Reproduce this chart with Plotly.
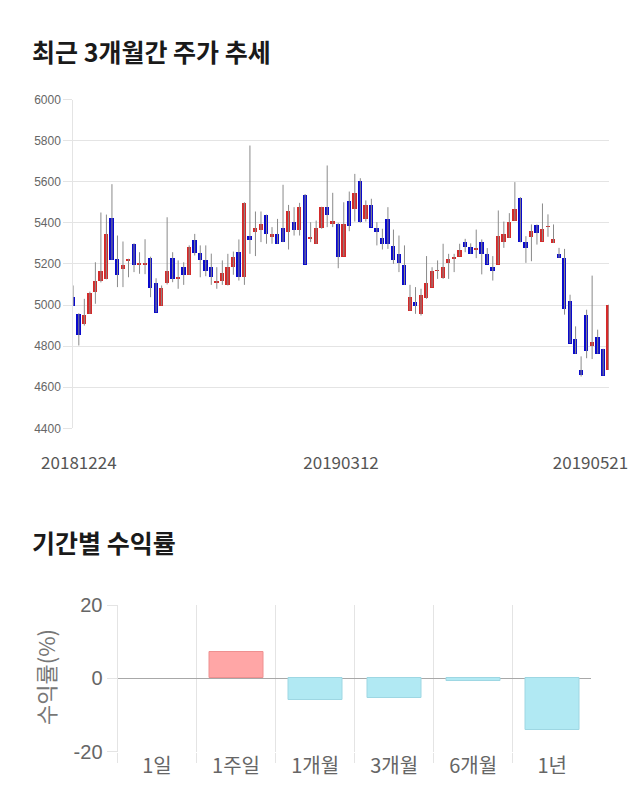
import plotly.graph_objects as go

# ---------------- data ----------------
opens = [5041, 4957, 4908, 4957, 5067, 5118, 5127, 5427, 5228, 5178,
         5218, 5298, 5197, 5200, 5230, 5111, 4998, 5108, 5230, 5127,
         5187, 5147, 5319, 5257, 5221, 5187, 5108, 5119, 5098, 5187,
         5260, 5139, 5338, 5358, 5367, 5439, 5335, 5346, 5379, 5358,
         5406, 5367, 5536, 5326, 5298, 5379, 5478, 5398, 5398, 5238,
         5509, 5468, 5606, 5419, 5487, 5379, 5327, 5419, 5290, 5249,
         5199, 4973, 5019, 4960, 5038, 5087, 5168, 5135, 5208, 5228,
         5238, 5309, 5286, 5268, 5309, 5249, 5187, 5199, 5309, 5327,
         5410, 5522, 5311, 5332, 5392, 5311, 5382, 5302, 5250, 5233,
         5023, 4836, 4685, 4955, 4803, 4847, 4787, 4685]
highs = [5095, 4960, 5030, 5065, 5208, 5450, 5440, 5588, 5338, 5309,
         5225, 5300, 5257, 5320, 5235, 5130, 5095, 5427, 5257, 5217,
         5208, 5290, 5346, 5290, 5290, 5250, 5184, 5217, 5249, 5260,
         5319, 5500, 5776, 5455, 5455, 5440, 5379, 5419, 5585, 5487,
         5476, 5497, 5540, 5403, 5411, 5478, 5679, 5546, 5400, 5500,
         5552, 5638, 5617, 5509, 5517, 5403, 5371, 5476, 5367, 5338,
         5290, 5098, 5087, 5079, 5238, 5184, 5217, 5298, 5249, 5249,
         5298, 5322, 5300, 5367, 5319, 5277, 5238, 5460, 5406, 5447,
         5598, 5525, 5335, 5392, 5392, 5494, 5441, 5392, 5278, 5273,
         5050, 4896, 4750, 4977, 5143, 4880, 4787, 5002]
lows = [4999, 4803, 4900, 4957, 5006, 5110, 5125, 5220, 5087, 5087,
        5135, 5160, 5152, 5150, 5038, 4965, 4998, 5100, 5111, 5079,
        5098, 5147, 5241, 5135, 5140, 5098, 5079, 5098, 5095, 5147,
        5119, 5098, 5249, 5238, 5306, 5298, 5298, 5298, 5306, 5270,
        5338, 5338, 5199, 5306, 5298, 5371, 5379, 5379, 5179, 5238,
        5359, 5406, 5400, 5406, 5379, 5290, 5270, 5273, 5200, 5160,
        5098, 4973, 4957, 4949, 5030, 5087, 5127, 5127, 5127, 5160,
        5238, 5257, 5249, 5228, 5149, 5199, 5119, 5199, 5278, 5327,
        5410, 5305, 5205, 5213, 5294, 5311, 5332, 5302, 5230, 4953,
        4815, 4763, 4652, 4741, 4737, 4763, 4657, 4685]
closes = [4999, 4855, 4952, 5059, 5118, 5168, 5348, 5220, 5147, 5197,
          5222, 5197, 5208, 5208, 5087, 4965, 5084, 5168, 5131, 5139,
          5147, 5286, 5257, 5220, 5168, 5139, 5119, 5157, 5187, 5238,
          5139, 5497, 5319, 5379, 5398, 5346, 5346, 5298, 5309, 5460,
          5367, 5478, 5199, 5330, 5379, 5478, 5439, 5410, 5238, 5398,
          5387, 5546, 5406, 5487, 5379, 5358, 5298, 5298, 5220, 5208,
          5098, 5041, 4998, 5049, 5108, 5168, 5172, 5187, 5228, 5232,
          5268, 5286, 5249, 5280, 5249, 5199, 5168, 5338, 5346, 5406,
          5468, 5311, 5281, 5364, 5351, 5371, 5386, 5322, 5233, 4981,
          4815, 4763, 4663, 4777, 4823, 4763, 4657, 5002]
date_tick_labels = ["20181224", "20190312", "20190521"]

period_labels = ["1일", "1주일", "1개월", "3개월", "6개월", "1년"]
period_returns = [0.0, 7.1, -5.9, -5.3, -0.6, -14.2]
return_tick_vals = [-20, 0, 20]
return_tick_text = ["-20", "0", "20"]

# ---------------- figure ----------------
OFF = 8            # page body margin in the browser
W, H = 640 - 2 * OFF, 810 - 2 * OFF
idx = list(range(len(opens)))
UP, DOWN = "#D42A2A", "#0A0ACC"

fig = go.Figure()

# wicks
wx, wy = [], []
for i, h, l in zip(idx, highs, lows):
    wx += [i, i, None]
    wy += [l, h, None]
fig.add_trace(go.Scatter(x=wx, y=wy, mode="lines",
                         line=dict(color="#8a8a8a", width=1),
                         hoverinfo="skip", showlegend=False,
                         xaxis="x", yaxis="y"))

# bodies
bases = [min(o, c) for o, c in zip(opens, closes)]
heights = [max(abs(c - o), 3) for o, c in zip(opens, closes)]
cols = [UP if c >= o else DOWN for o, c in zip(opens, closes)]
fig.add_trace(go.Bar(x=idx, y=heights, base=bases, width=0.78,
                     marker=dict(color=cols, line=dict(width=0)),
                     showlegend=False, xaxis="x", yaxis="y"))

# returns bars
fills = ["#FFA6A6" if v >= 0 else "#B1E9F3" for v in period_returns]
edges = ["#EE9090" if v >= 0 else "#9ED7E3" for v in period_returns]
edge_w = [1 if v != 0 else 0 for v in period_returns]
fig.add_trace(go.Bar(x=period_labels, y=period_returns, width=0.685,
                     marker=dict(color=fills, line=dict(color=edges, width=edge_w)),
                     showlegend=False, xaxis="x2", yaxis="y2"))

def px_x(v):
    return (v - OFF) / W

def px_y(v):
    return 1 - (v - OFF) / H

GRID = "#e4e4e4"

fig.update_layout(
    width=W, height=H,
    margin=dict(l=0, r=0, t=0, b=0, autoexpand=False),
    paper_bgcolor="white", plot_bgcolor="white",
    bargap=0,
    xaxis=dict(domain=[px_x(73.3), px_x(608.7)], range=[0, len(opens) - 1],
               automargin=False,
               showgrid=False, zeroline=False, showline=False,
               tickmode="array", tickvals=[1, 48.5, 93.7], ticktext=date_tick_labels,
               ticks="outside", ticklen=19, tickcolor="rgba(0,0,0,0)",
               tickfont=dict(family="Noto Sans CJK KR", size=17, color="#555"),
               fixedrange=True),
    yaxis=dict(domain=[px_y(428.3), px_y(99.5)], range=[4400, 6000],
               automargin=False,
               dtick=200, tick0=4400,
               showgrid=True, gridcolor=GRID, gridwidth=1,
               zeroline=False, showline=True, linecolor=GRID, linewidth=1,
               ticks="outside", ticklen=9, tickcolor=GRID,
               tickfont=dict(family="Liberation Sans", size=12, color="#666")),
    xaxis2=dict(domain=[px_x(117.5), px_x(591.0)], type="category",
                range=[-0.5, 5.49],
                anchor="y2", tickson="boundaries", automargin=False,
                showgrid=True, gridcolor=GRID, showline=False, zeroline=False,
                ticks="outside", ticklen=10, tickcolor=GRID,
                tickfont=dict(family="Noto Sans CJK KR", size=20, color="#666")),
    yaxis2=dict(domain=[px_y(751.7), px_y(605)], range=[-20, 20], anchor="x2",
                automargin=False,
                tickmode="array", tickvals=return_tick_vals, ticktext=return_tick_text,
                showgrid=True, gridcolor=GRID,
                zeroline=True, zerolinecolor="#a8a8a8", zerolinewidth=1,
                showline=True, linecolor=GRID, linewidth=1,
                ticks="outside", ticklen=10, tickcolor=GRID,
                tickfont=dict(family="Liberation Sans", size=20, color="#666")),
    annotations=[
        dict(text="<b>최근 3개월간 주가 추세</b>", xref="paper", yref="paper",
             x=px_x(30), y=px_y(51), xanchor="left", yanchor="middle",
             showarrow=False,
             font=dict(family="Noto Sans CJK KR", size=25, color="#1a1a1a")),
        dict(text="<b>기간별 수익률</b>", xref="paper", yref="paper",
             x=px_x(30), y=px_y(542), xanchor="left", yanchor="middle",
             showarrow=False,
             font=dict(family="Noto Sans CJK KR", size=25, color="#1a1a1a")),
        dict(text="수익률(%)", xref="paper", yref="paper",
             x=px_x(45), y=px_y(677), xanchor="center", yanchor="middle",
             textangle=-90, showarrow=False,
             font=dict(family="Noto Sans CJK KR", size=22, color="#777")),
    ],
)

fig.write_html("out.html")
